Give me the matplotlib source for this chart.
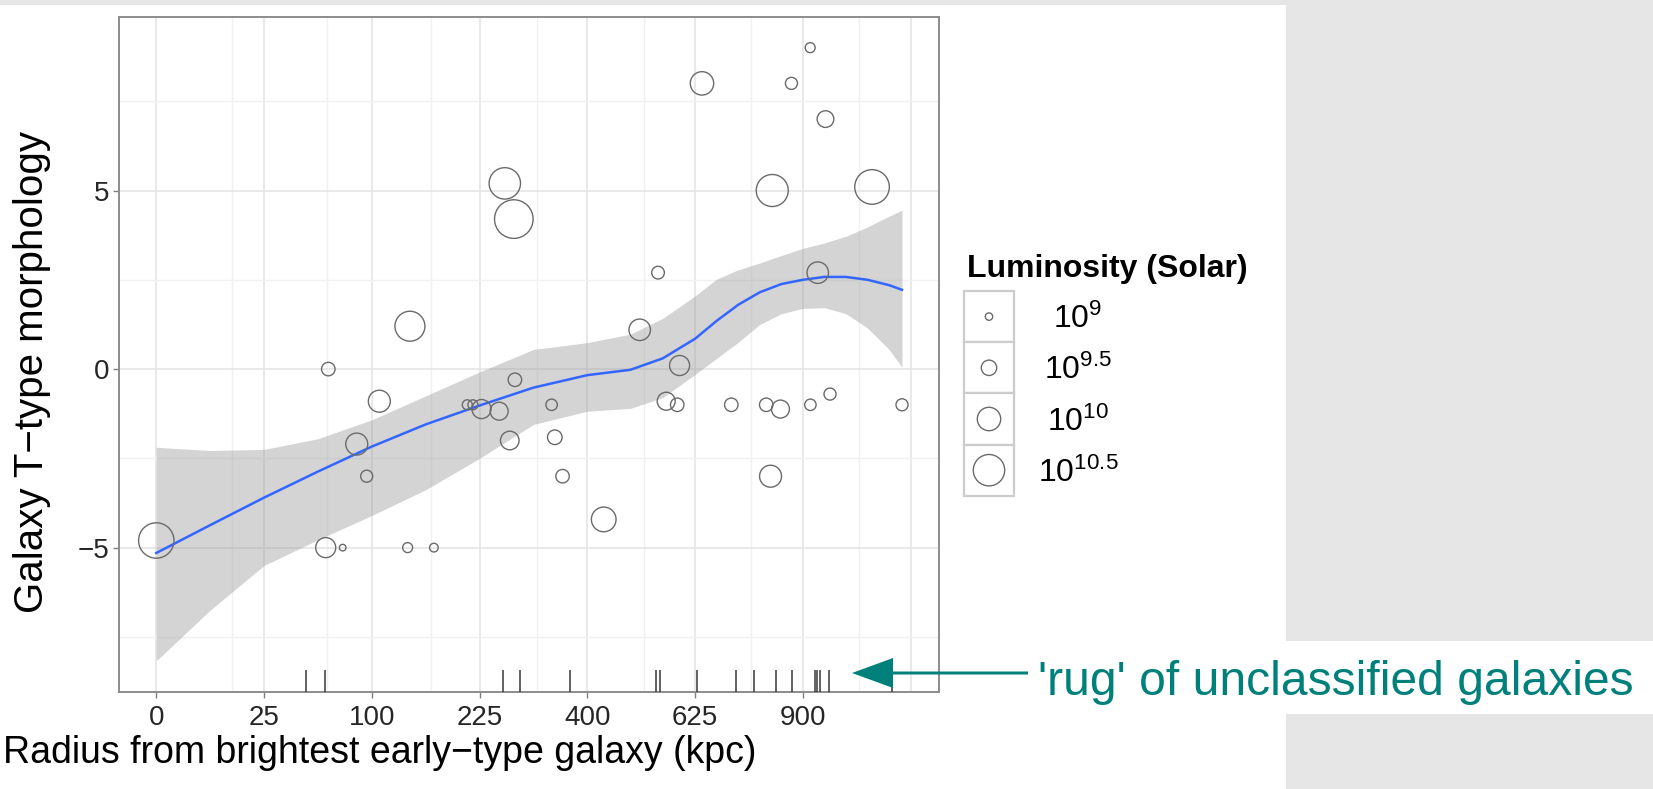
import numpy as np
import matplotlib
matplotlib.use('Agg')
import matplotlib.pyplot as plt
from matplotlib.patches import Rectangle, FancyArrow

plt.rcParams['font.family'] = ['Liberation Sans', 'DejaVu Sans']
plt.rcParams['mathtext.fontset'] = 'custom'
plt.rcParams['mathtext.rm'] = 'Liberation Sans'
plt.rcParams['mathtext.it'] = 'Liberation Sans:italic'
plt.rcParams['mathtext.bf'] = 'Liberation Sans:bold'

# classified galaxies: radius (kpc), T-type, log10 luminosity (solar)
radius = [0, 63.7, 61.8, 74.8, 86.5, 95.3, 107.1, 138.5, 136.0, 165.9,
          208.2, 215.8, 227.7, 253.1, 261.5, 275.2, 276.9, 269.0, 336.4, 341.9,
          355.3, 431.0, 503.1, 542.0, 559.8, 584.2, 589.5, 641.1, 711.8, 800.9,
          816.8, 812.3, 838.7, 868.5, 920.5, 921.1, 941.9, 964.1, 977.2, 1102.9,
          1197.2]
ttype = [-4.8, 0.0, -5.0, -5.0, -2.1, -3.0, -0.9, 1.2, -5.0, -5.0,
         -1.0, -1.0, -1.12, -1.18, 5.2, 4.2, -0.3, -2.0, -1.0, -1.91,
         -3.0, -4.21, 1.1, 2.7, -0.9, -1.0, 0.1, 8.0, -1.0, -1.0,
         5.0, -3.0, -1.12, 8.0, 9.0, -1.0, 2.7, 7.0, -0.7, 5.1,
         -1.0]
log_lum = [10.75, 9.38, 9.79, 8.95, 9.91, 9.29, 9.91, 10.41, 9.16, 9.08,
           9.16, 9.16, 9.73, 9.66, 10.5, 10.95, 9.38, 9.7, 9.25, 9.45,
           9.38, 10.08, 9.88, 9.33, 9.66, 9.38, 9.79, 10.0, 9.38, 9.38,
           10.54, 9.91, 9.66, 9.29, 9.16, 9.25, 9.88, 9.58, 9.29, 10.7,
           9.29]

# galaxies without a T-type, shown as a rug along the bottom
rug_radius = [48.5, 61.5, 258.5, 284.2, 368.0, 537.9, 545.5, 628.5, 722.5,
              769.2, 828.0, 869.5, 934.0, 941.0, 948.0, 973.6, 1164.8]

# loess fit and its confidence band
fit_radius = [0, 6.25, 25, 56.25, 100, 156.25, 225, 306.25, 400, 484, 552.25,
              625, 676, 729, 784, 841, 900, 961, 1024, 1089, 1156, 1197.2]
fit_y = [-5.15, -4.37, -3.6, -2.87, -2.17, -1.55, -1.02, -0.52, -0.17, -0.02,
         0.3, 0.85, 1.35, 1.8, 2.15, 2.38, 2.5, 2.58, 2.58, 2.5, 2.35, 2.22]
fit_hi = [-2.19, -2.28, -2.25, -1.95, -1.42, -0.75, -0.08, 0.55, 0.74, 0.98,
          1.42, 2.05, 2.52, 2.78, 2.97, 3.18, 3.38, 3.53, 3.72, 3.98, 4.28, 4.45]
fit_lo = [-8.17, -6.75, -5.5, -4.78, -4.1, -3.38, -2.5, -1.55, -1.18, -1.1,
          -0.8, -0.15, 0.3, 0.75, 1.25, 1.55, 1.7, 1.72, 1.55, 1.15, 0.55, 0.05]

x_breaks = [0, 25, 100, 225, 400, 625, 900]
x_labels = ['0', '25', '100', '225', '400', '625', '900']
x_grid_extra = [1225]
y_breaks = [-5, 0, 5]
y_labels = ['\u22125', '0', '5']

legend_lum = [9, 9.5, 10, 10.5]
legend_labels = [r'$\mathregular{10^{9}}$', r'$\mathregular{10^{9.5}}$',
                 r'$\mathregular{10^{10}}$', r'$\mathregular{10^{10.5}}$']

W, H, DPI = 1653, 789, 100
TEAL = '#00807b'


def lum_radius(l):
    # circle radius in pixels for a log luminosity
    return 3.7 + 8.0 * (np.asarray(l) - 9.0)


def marker_area(l):
    d_pt = 2 * lum_radius(l) * 72.0 / DPI
    return d_pt ** 2


def fwd(x):
    return np.sign(x) * np.sqrt(np.abs(x))


def inv(x):
    return np.sign(x) * x ** 2


fig = plt.figure(figsize=(W / DPI, H / DPI), dpi=DPI)
fig.patch.set_facecolor('white')

ax = fig.add_axes([119 / W, 1 - 691.5 / H, (939.3 - 119) / W, (691.5 - 17) / H])
ax.set_xscale('function', functions=(fwd, inv))

smax = np.sqrt(max(radius))
ax.set_xlim(-(0.05 * smax) ** 2, (1.05 * smax) ** 2)
ylo, yhi = min(fit_lo), max(ttype)
pad = 0.05 * (yhi - ylo)
ax.set_ylim(ylo - pad, yhi + pad)

ax.set_xticks(x_breaks)
ax.set_xticklabels(x_labels)
all_breaks = x_breaks + x_grid_extra
mids = [(a + b) / 2 for a, b in zip(all_breaks[:-1], all_breaks[1:])]
ax.set_xticks(mids, minor=True)
ax.set_yticks(y_breaks)
ax.set_yticklabels(y_labels)
ax.set_yticks([-7.5, -2.5, 2.5, 7.5], minor=True)

ax.grid(which='major', color='#e3e3e3', lw=1.1, zorder=0)
ax.grid(which='minor', color='#f1f1f1', lw=1.0, zorder=0)
for g in x_grid_extra:
    ax.axvline(g, color='#e3e3e3', lw=1.1, zorder=0)
ax.set_axisbelow(True)
ax.tick_params(which='major', direction='out', length=4, width=1,
               color='#7f7f7f', labelsize=20, labelcolor='#262626')
ax.tick_params(axis='x', which='major', pad=6)
ax.tick_params(axis='y', which='major', pad=3)
ax.tick_params(which='minor', length=0)
for s in ax.spines.values():
    s.set_color('#8c8c8c')
    s.set_linewidth(1.4)

ax.fill_between(fit_radius, fit_lo, fit_hi, color='#999999', alpha=0.42,
                lw=0, zorder=2)
ax.plot(fit_radius, fit_y, color='#3366ff', lw=1.8, zorder=3)
ax.scatter(radius, ttype, s=marker_area(log_lum), facecolors='none',
           edgecolors='#6a6a6a', linewidths=1.0, zorder=4)
for r in rug_radius:
    ax.axvline(r, ymin=0, ymax=0.03, color='#3a3a3a', lw=1.4, alpha=0.8,
               zorder=5)

fig.text(3 / W, 1 - 753 / H, 'Radius from brightest early\u2212type galaxy (kpc)',
         fontsize=27, ha='left', va='center', color='black')
fig.text(31.6 / W, 1 - 372 / H, 'Galaxy T\u2212type morphology', fontsize=29,
         rotation=90, ha='center', va='center', color='black')

# overlay in pixel units for backgrounds, legend and the annotation
ov = fig.add_axes([0, 0, 1, 1], zorder=10)
ov.set_xlim(0, W)
ov.set_ylim(H, 0)
ov.axis('off')
ov.patch.set_alpha(0)

gray = '#e6e6e6'
ov.add_patch(Rectangle((0, 0), W, 5, color=gray, lw=0))
ov.add_patch(Rectangle((1286, 0), W - 1286, 641, color=gray, lw=0))
ov.add_patch(Rectangle((1286, 714), W - 1286, H - 714, color=gray, lw=0))

ov.text(966.7, 269, 'Luminosity (Solar)', fontsize=23, fontweight='bold',
        ha='left', va='center')
key_top, key_h, key_x0, key_w = 291, 51.2, 964, 50
for i, (l, lab) in enumerate(zip(legend_lum, legend_labels)):
    y0 = key_top + i * key_h
    ov.add_patch(Rectangle((key_x0, y0), key_w, key_h, facecolor='white',
                           edgecolor='#cccccc', lw=1.6))
    ov.scatter([key_x0 + key_w / 2], [y0 + key_h / 2], s=marker_area(l),
               facecolors='none', edgecolors='#6a6a6a', linewidths=1.0)
    ov.text(1078, y0 + key_h / 2 + 3, lab, fontsize=23, ha='center',
            va='center')

ov.add_patch(FancyArrow(1028, 673, -176, 0, width=3, head_width=30,
                        head_length=41, length_includes_head=True,
                        color=TEAL, lw=0))
ov.text(1038, 695, "'rug' of unclassified galaxies", fontsize=34.6,
        color=TEAL, ha='left', va='baseline')

fig.savefig('out.png', dpi=DPI)
